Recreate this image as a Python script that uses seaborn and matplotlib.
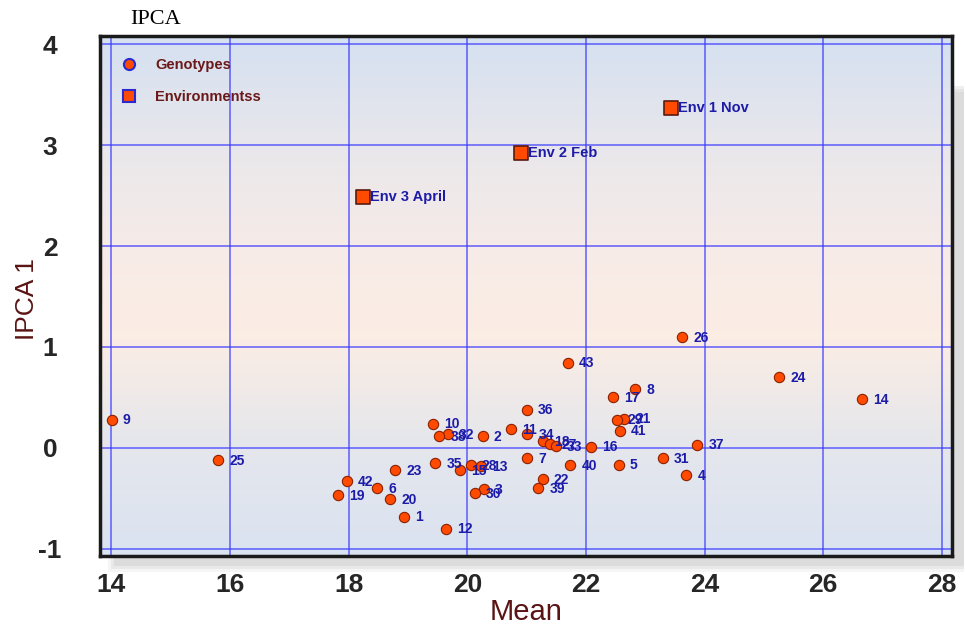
import numpy as np
import pandas as pd
import matplotlib
matplotlib.use("Agg")
import matplotlib.pyplot as plt
from matplotlib.patches import Rectangle
from matplotlib.colors import LinearSegmentedColormap
from matplotlib.lines import Line2D
import seaborn as sns

# ---------------- data ----------------
gen_labels = [str(i) for i in range(1, 44)]
gen_mean = [18.93, 20.26, 20.28, 23.69, 22.55, 18.48, 21.01, 22.83, 14.01, 19.42,
            20.73, 19.65, 20.23, 26.66, 19.88, 22.08, 22.45, 21.27, 17.82, 18.70,
            22.65, 21.27, 18.79, 25.26, 15.80, 23.62, 21.40, 20.06, 22.52, 20.13,
            23.30, 19.67, 21.49, 21.01, 19.46, 21.00, 23.88, 19.53, 21.20, 21.74,
            22.57, 17.97, 21.69]
gen_ipca = [-0.68, 0.12, -0.41, -0.27, -0.165, -0.40, -0.10, 0.58, 0.28, 0.24,
            0.185, -0.80, -0.18, 0.485, -0.22, 0.013, 0.50, 0.066, -0.47, -0.51,
            0.29, -0.31, -0.22, 0.70, -0.12, 1.10, 0.04, -0.17, 0.28, -0.45,
            -0.10, 0.14, 0.017, 0.135, -0.15, 0.38, 0.033, 0.12, -0.40, -0.17,
            0.17, -0.33, 0.845]

env_labels = ["Env 1 Nov", "Env 2 Feb", "Env 3 April"]
env_mean = [23.44, 20.91, 18.24]
env_ipca = [3.37, 2.92, 2.49]

x_ticks = [14, 16, 18, 20, 22, 24, 26, 28]
y_ticks = [-1, 0, 1, 2, 3, 4]

gen_df = pd.DataFrame({"Mean": gen_mean, "IPCA1": gen_ipca, "label": gen_labels,
                       "type": "Genotypes"})
env_df = pd.DataFrame({"Mean": env_mean, "IPCA1": env_ipca, "label": env_labels,
                       "type": "Environmentss"})

# ---------------- style ----------------
sns.set_style("white")
plt.rcParams["font.family"] = ["Liberation Sans", "DejaVu Sans"]
narrow = ["Liberation Sans Narrow", "Liberation Sans", "DejaVu Sans"]

W, H = 966, 625
fig = plt.figure(figsize=(W / 100, H / 100), dpi=100)
left, right, top, bottom = 100 / W, 952 / W, 1 - 36 / H, 1 - 556 / H
ax = fig.add_axes([left, bottom, right - left, top - bottom])
ax.set_zorder(2)

# soft shadow behind the plot box (right and bottom)
for k, a in enumerate([0.08, 0.10, 0.12]):
    off = 3 * k
    fig.patches.append(Rectangle((left + (8 + off) / W, bottom - (16 - off) / H),
                                 right - left + (4 - off) / W,
                                 top - bottom - 40 / H,
                                 transform=fig.transFigure, facecolor="#808080",
                                 alpha=a, edgecolor="none", zorder=0))

xlim = (13.81, 28.17)
ylim = (-1.07, 4.08)

# background gradient
cmap = LinearSegmentedColormap.from_list("bg", [
    (0.0, (0.855, 0.890, 0.945)),
    (0.22, (0.900, 0.905, 0.925)),
    (0.42, (0.985, 0.930, 0.895)),
    (0.55, (0.975, 0.925, 0.905)),
    (0.75, (0.925, 0.910, 0.920)),
    (1.0, (0.835, 0.880, 0.945)),
])
grad = np.linspace(0, 1, 256).reshape(-1, 1)
ax.imshow(grad, extent=[xlim[0], xlim[1], ylim[1], ylim[0]], aspect="auto",
          cmap=cmap, zorder=0, origin="upper")
ax.set_xlim(*xlim)
ax.set_ylim(*ylim)

# grid
for xv in x_ticks:
    ax.axvline(xv, color="#3a3aff", lw=1.1, alpha=0.8, zorder=1)
for yv in y_ticks:
    ax.axhline(yv, color="#3a3aff", lw=1.1, alpha=0.8, zorder=1)

# points
sns.scatterplot(data=gen_df, x="Mean", y="IPCA1", ax=ax, marker="o", s=55,
                color="#ff4a00", edgecolor="#8a2000", linewidth=0.8, zorder=4,
                legend=False)
sns.scatterplot(data=env_df, x="Mean", y="IPCA1", ax=ax, marker="s", s=110,
                color="#ff4a00", edgecolor="#5a1a10", linewidth=1.2, zorder=4,
                legend=False)

lab_col = "#1c1ca8"
for _, r in gen_df.iterrows():
    ax.annotate(r["label"], (r["Mean"], r["IPCA1"]), xytext=(8, -0.5),
                textcoords="offset points", va="center", ha="left",
                fontsize=10, fontweight="bold", color=lab_col, zorder=5)
for _, r in env_df.iterrows():
    ax.annotate(r["label"], (r["Mean"], r["IPCA1"]), xytext=(5, 0),
                textcoords="offset points", va="center", ha="left",
                fontsize=10.5, fontweight="bold", color=lab_col, zorder=5)

# legend
handles = [
    Line2D([], [], marker="o", ls="none", markersize=8, markerfacecolor="#ff4a00",
           markeredgecolor="#2a2ad0", markeredgewidth=1.5),
    Line2D([], [], marker="s", ls="none", markersize=8, markerfacecolor="#ff4a00",
           markeredgecolor="#2a2ad0", markeredgewidth=1.5),
]
leg = ax.legend(handles, ["Genotypes", "Environmentss"], loc="upper left",
                bbox_to_anchor=(0.0, 0.985), frameon=False, handletextpad=0.8,
                labelspacing=1.2, borderaxespad=0.6,
                prop={"weight": "bold", "size": 10.5})
for t in leg.get_texts():
    t.set_color("#6a1818")
leg.set_zorder(6)

# ticks and labels
ax.set_xticks(x_ticks)
ax.set_yticks(y_ticks)
ax.set_xticklabels([str(v) for v in x_ticks])
ax.set_yticklabels([str(v) for v in y_ticks])
tick_fp = matplotlib.font_manager.FontProperties(family=narrow, weight="bold", size=19)
for t in ax.get_xticklabels() + ax.get_yticklabels():
    t.set_fontproperties(tick_fp)
ax.tick_params(axis="x", length=0, pad=12)
ax.tick_params(axis="y", length=0, pad=36)
for t in ax.get_yticklabels():
    t.set_horizontalalignment("center")

ax.set_xlabel("Mean", fontsize=21, color="#5a1414", family=narrow, labelpad=1)
ax.set_ylabel("IPCA 1", fontsize=19, color="#5a1414", family=narrow)
ax.yaxis.set_label_coords(-0.072, 0.495)

for s in ax.spines.values():
    s.set_visible(True)
    s.set_color("#1a1a1a")
    s.set_linewidth(2.5)

fig.text(130 / W, 1 - 20 / H, "IPCA", fontsize=16, va="center", ha="left",
         family=["Liberation Serif", "DejaVu Serif"], color="black")

fig.savefig("out.png", dpi=100, facecolor="white")
